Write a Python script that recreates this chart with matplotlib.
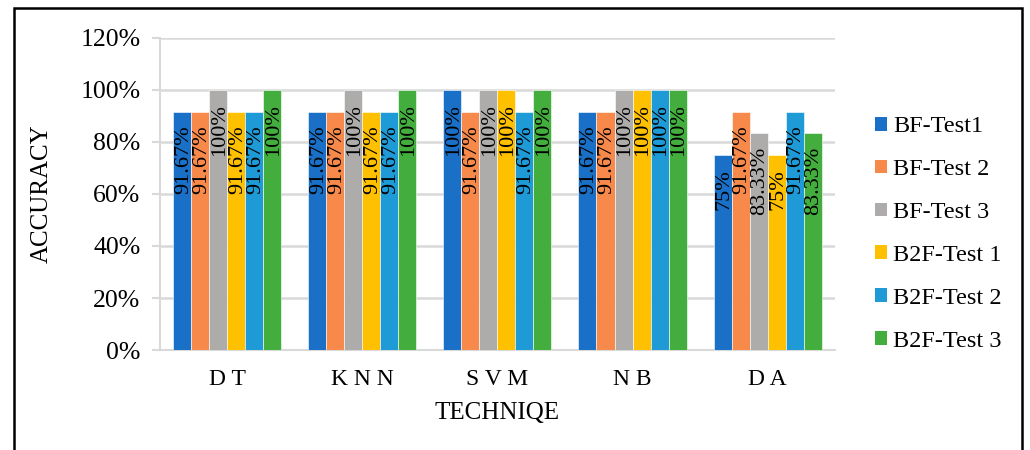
import matplotlib.pyplot as plt
import numpy as np
from matplotlib.patches import Patch, Rectangle

plt.rcParams['font.family'] = ['Liberation Serif', 'DejaVu Serif']

# Accuracy (%) per technique for each test setup
TECHNIQUES = ["D T", "K N N", "S V M", "N B", "D A"]
SERIES = ["BF-Test1", "BF-Test 2", "BF-Test 3", "B2F-Test 1", "B2F-Test 2", "B2F-Test 3"]
BF_TEST1 = [91.67, 91.67, 100, 91.67, 75]
BF_TEST2 = [91.67, 91.67, 91.67, 91.67, 91.67]
BF_TEST3 = [100, 100, 100, 100, 83.33]
B2F_TEST1 = [91.67, 91.67, 100, 100, 75]
B2F_TEST2 = [91.67, 91.67, 91.67, 100, 91.67]
B2F_TEST3 = [100, 100, 100, 100, 83.33]
VALUES = [BF_TEST1, BF_TEST2, BF_TEST3, B2F_TEST1, B2F_TEST2, B2F_TEST3]

COLORS = ["#1A70C6", "#F7894A", "#AEACAB", "#FFC000", "#1E9BD7", "#43AE3D"]


def fmt(v):
    return f"{v:g}%"


fig = plt.figure(figsize=(10.3, 4.5), dpi=100)
ax = fig.add_axes([0.1553, 0.2222, 0.6554, 0.6934])

x = np.arange(len(TECHNIQUES))
width = 0.8 / len(SERIES)
for i, (vals, color) in enumerate(zip(VALUES, COLORS)):
    pos = x - 0.4 + width * (i + 0.5)
    ax.bar(pos, vals, width=width, color=color, edgecolor="white", linewidth=0.4, zorder=3)
    for px, v in zip(pos, vals):
        ax.annotate(fmt(v), (px, v), xytext=(1, -10), textcoords="offset points",
                    rotation=90, ha="center", va="top", fontsize=16, zorder=4)

ax.set_xlim(-0.5, len(TECHNIQUES) - 0.5)
ax.set_ylim(0, 120)
ax.set_yticks(np.arange(0, 121, 20))
ax.set_yticklabels([f"{t}%" for t in range(0, 121, 20)], fontsize=18.5)
ax.set_xticks(x)
ax.set_xticklabels(TECHNIQUES, fontsize=17)
ax.tick_params(axis="x", length=0, pad=14)
ax.tick_params(axis="y", length=6, color="#D9D9D9", width=1.5, pad=8)
ax.grid(axis="y", color="#D9D9D9", linewidth=1.8, zorder=0)
for side in ["top", "right"]:
    ax.spines[side].set_visible(False)
ax.spines["left"].set_color("#D9D9D9")
ax.spines["left"].set_linewidth(1.5)
ax.spines["bottom"].set_color("#D9D9D9")
ax.spines["bottom"].set_linewidth(1.5)

ax.set_xlabel("TECHNIQE", fontsize=18, labelpad=8)
ax.set_ylabel("ACCURACY", fontsize=18, labelpad=20)

handles = [Patch(facecolor=c, edgecolor="none") for c in COLORS]
fig.legend(handles, SERIES, loc="center left", bbox_to_anchor=(0.828, 0.48),
           frameon=False, fontsize=17.5, handlelength=0.5, handleheight=0.5,
           handletextpad=0.25, labelspacing=0.9)

# outer frame around the whole chart
fig.patches.append(Rectangle((14 / 1030, -0.1), 1008 / 1030, 1.1 - 8 / 450,
                             transform=fig.transFigure, fill=False,
                             edgecolor="black", linewidth=1.8))

fig.savefig("out.png", dpi=100)
